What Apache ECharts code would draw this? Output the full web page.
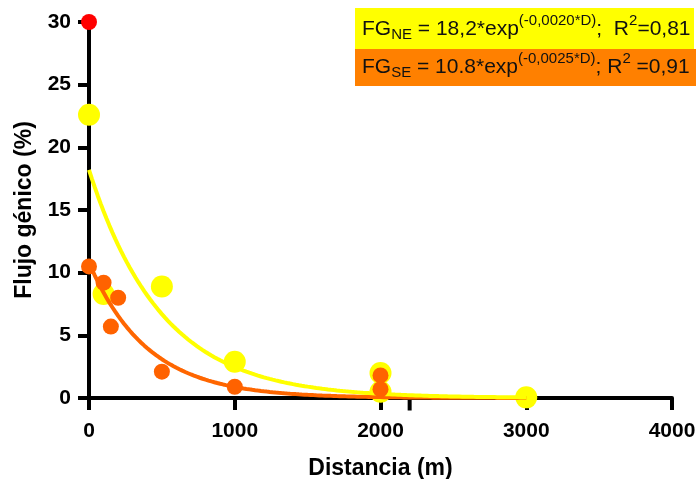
<!DOCTYPE html>
<html>
<head>
<meta charset="utf-8">
<script src="https://cdn.jsdelivr.net/npm/echarts@6/dist/echarts.min.js"></script>
<style>
  html, body { margin: 0; padding: 0; background: #fff; }
  #main { width: 697px; height: 479px; }
</style>
</head>
<body>
<div id="main"></div>
<script>
  // puntos NE (amarillo)
  var neDist = [0, 100, 500, 1000, 2000, 2000, 3000];
  var neFlujo = [22.6, 8.3, 8.9, 2.9, 2.0, 0.5, 0.05];
  // puntos SE (naranja)
  var seDist = [0, 100, 150, 200, 500, 1000, 2000, 2000];
  var seFlujo = [10.5, 9.2, 5.7, 8.0, 2.1, 0.9, 1.8, 0.7];
  // punto rojo
  var redDist = [0];
  var redFlujo = [30];
  // ajustes exponenciales de la leyenda: [a, b] -> a*exp(b*D)
  var fitNE = [18.2, -0.0020];
  var fitSE = [10.8, -0.0025];
  var fitRange = [0, 3000];
  var xTicks = [0, 1000, 2000, 3000, 4000];
  var yTicks = [0, 5, 10, 15, 20, 25, 30];
  var extraTick = [2200];

  var font = 'Liberation Sans, Arial, sans-serif';

  var pairs = function (xs, ys) {
    return xs.map(function (x, i) { return [x, ys[i]]; });
  };
  var curve = function (p) {
    var out = [];
    for (var d = fitRange[0]; d <= fitRange[1]; d += 20) {
      out.push([d, p[0] * Math.exp(p[1] * d)]);
    }
    return out;
  };

  var chart = echarts.init(document.getElementById('main'));

  var legendText = function (y, sub, body, sup, tail, r2) {
    return {
      type: 'text',
      left: 362,
      top: y,
      z: 20,
      style: {
        text: '{m|FG}{s|' + sub + '}{m|' + body + '}{p|' + sup + '}{m|' + tail + '}{p|2}{m|' + r2 + '}',
        fill: '#000',
        rich: {
          m: { fontFamily: font, fontSize: 21, lineHeight: 30, verticalAlign: 'middle', fill: '#111' },
          s: { fontFamily: font, fontSize: 15, lineHeight: 15, verticalAlign: 'middle', padding: [11, 0, 0, 0], fill: '#111' },
          p: { fontFamily: font, fontSize: 15, lineHeight: 15, verticalAlign: 'middle', padding: [0, 0, 17, 0], fill: '#111' }
        }
      }
    };
  };

  var option = {
    animation: false,
    backgroundColor: '#fff',
    grid: { left: 89, right: 25, top: 22, bottom: 81, containLabel: false, outerBoundsMode: 'none' },
    xAxis: {
      type: 'value',
      min: xTicks[0],
      max: xTicks[xTicks.length - 1],
      interval: 1000,
      splitLine: { show: false },
      axisLine: { show: true, onZero: false, lineStyle: { color: '#000', width: 4 } },
      axisTick: { show: true, inside: false, length: 12, lineStyle: { color: '#000', width: 4 } },
      axisLabel: {
        color: '#000', fontFamily: font, fontWeight: 'bold', fontSize: 21, margin: 23,
        formatter: function (v) { return String(v); }
      },
      name: 'Distancia (m)',
      nameLocation: 'middle',
      nameGap: 59,
      nameTextStyle: { color: '#000', fontFamily: font, fontWeight: 'bold', fontSize: 23 }
    },
    yAxis: {
      type: 'value',
      min: yTicks[0],
      max: yTicks[yTicks.length - 1],
      interval: 5,
      splitLine: { show: false },
      axisLine: { show: true, onZero: false, lineStyle: { color: '#000', width: 4 } },
      axisTick: { show: true, inside: false, length: 11, lineStyle: { color: '#000', width: 4 } },
      axisLabel: {
        color: '#000', fontFamily: font, fontWeight: 'bold', fontSize: 21, margin: 18,
        formatter: function (v) { return String(v); }
      },
      name: 'Flujo génico (%)',
      nameLocation: 'middle',
      nameGap: 53,
      nameTextStyle: { color: '#000', fontFamily: font, fontWeight: 'bold', fontSize: 23 }
    },
    series: [
      {
        // marca suelta bajo el eje x
        name: 'tick',
        type: 'scatter',
        data: extraTick.map(function (x) { return [x, 0]; }),
        symbol: 'rect',
        symbolSize: [4, 13],
        symbolOffset: [0, 6],
        itemStyle: { color: '#000', opacity: 1 },
        clip: false,
        silent: true,
        z: 1
      },
      {
        name: 'NE',
        type: 'scatter',
        data: pairs(neDist, neFlujo),
        symbolSize: 22,
        itemStyle: { color: '#FFFF00', opacity: 1 },
        clip: false,
        z: 2
      },
      {
        name: 'ajuste SE',
        type: 'line',
        data: curve(fitSE),
        showSymbol: false,
        lineStyle: { color: '#FF6600', width: 4 },
        clip: false,
        z: 3
      },
      {
        name: 'ajuste NE',
        type: 'line',
        data: curve(fitNE),
        showSymbol: false,
        lineStyle: { color: '#FFFF00', width: 4 },
        clip: false,
        z: 4
      },
      {
        name: 'SE',
        type: 'scatter',
        data: pairs(seDist, seFlujo),
        symbolSize: 16,
        itemStyle: { color: '#FF6200', opacity: 1 },
        clip: false,
        z: 5
      },
      {
        name: 'rojo',
        type: 'scatter',
        data: pairs(redDist, redFlujo),
        symbolSize: 16,
        itemStyle: { color: '#FF0000', opacity: 1 },
        clip: false,
        z: 6
      }
    ],
    graphic: [
      { type: 'rect', shape: { x: 355, y: 8, width: 339, height: 41 }, style: { fill: '#FFFF00' }, z: 10 },
      { type: 'rect', shape: { x: 355, y: 49, width: 341, height: 37 }, style: { fill: '#FF8000' }, z: 10 },
      legendText(13, 'NE', ' = 18,2*exp', '(-0,0020*D)', ';  R', '=0,81'),
      legendText(51, 'SE', ' = 10.8*exp', '(-0,0025*D)', '; R', ' =0,91')
    ]
  };

  chart.setOption(option);
</script>
</body>
</html>
